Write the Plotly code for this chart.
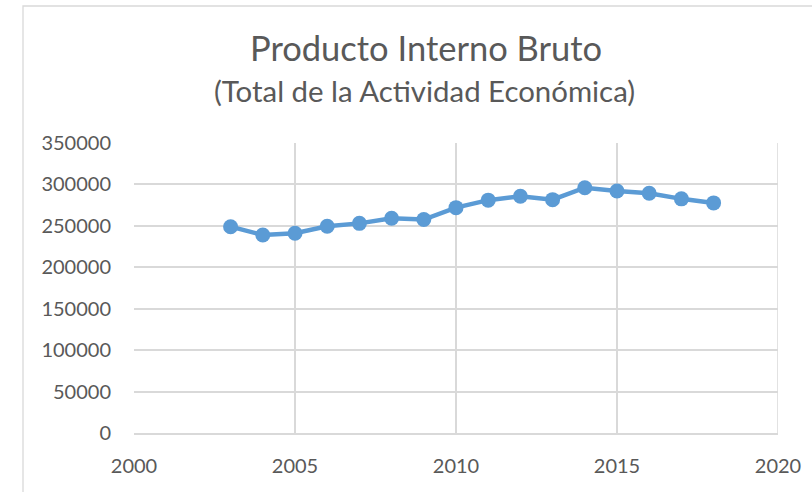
import plotly.graph_objects as go

years = [2003, 2004, 2005, 2006, 2007, 2008, 2009, 2010, 2011, 2012, 2013, 2014, 2015, 2016, 2017, 2018]
pib = [249000, 238900, 241000, 249500, 253000, 259200, 257600, 272000, 281000, 285800, 281600, 296000, 292000, 289400, 282600, 277700]

title_text = "Producto Interno Bruto"
subtitle_text = "(Total de la Actividad Económica)"
x_ticks = [2000, 2005, 2010, 2015, 2020]
y_ticks = [0, 50000, 100000, 150000, 200000, 250000, 300000, 350000]

FONT = "Lato"
TXT = "#595959"
GRID = "#d9d9d9"

fig = go.Figure()
fig.add_trace(go.Scatter(
    x=years, y=pib, mode="lines+markers",
    line=dict(color="#5B9BD5", width=4.5),
    marker=dict(color="#5B9BD5", size=15),
    showlegend=False, hoverinfo="x+y",
))

L, R, T, B = 134, 34, 143, 59
W, H = 812, 492
pw, ph = W - L - R, H - T - B

def px_x(x):
    return (x - L) / pw

def px_y(y):
    return (H - B - y) / ph

fig.update_layout(
    width=W, height=H,
    margin=dict(l=L, r=R, t=T, b=B, pad=0),
    paper_bgcolor="white", plot_bgcolor="white",
    font=dict(family=FONT, color=TXT, size=20),
    xaxis=dict(range=[2000, 2020], tickvals=x_ticks, ticktext=[str(v) for v in x_ticks],
               showgrid=True, gridcolor=GRID, gridwidth=1.5,
               showline=True, linecolor=GRID, linewidth=1.5, mirror=False,
               zeroline=False, ticks="", ticklabelstandoff=14,
               tickfont=dict(family=FONT, size=20, color=TXT), fixedrange=True),
    yaxis=dict(range=[0, 350000], tickvals=y_ticks, ticktext=[str(v) for v in y_ticks],
               showgrid=True, gridcolor=GRID, gridwidth=1.5,
               showline=False, zeroline=False, ticks="", ticklabelstandoff=22,
               tickfont=dict(family=FONT, size=20, color=TXT), fixedrange=True),
    shapes=[dict(type="rect", xref="paper", yref="paper",
                 x0=px_x(23), x1=px_x(830), y0=px_y(510), y1=px_y(6),
                 line=dict(color=GRID, width=1.3), fillcolor="rgba(0,0,0,0)", layer="below"),
            dict(type="line", xref="x", yref="paper", x0=2020, x1=2020, y0=0, y1=1,
                 line=dict(color=GRID, width=1.5))],
    annotations=[
        dict(text=title_text, xref="paper", yref="paper", x=px_x(426), y=px_y(48),
             xanchor="center", yanchor="middle", showarrow=False,
             font=dict(family=FONT, size=34.5, color=TXT)),
        dict(text=subtitle_text, xref="paper", yref="paper", x=px_x(424), y=px_y(90),
             xanchor="center", yanchor="middle", showarrow=False,
             font=dict(family=FONT, size=29.4, color=TXT)),
    ],
)

fig.write_html("out.html", config={"displayModeBar": False},
               post_script="document.body.style.margin='0px';document.body.style.overflow='hidden';")
